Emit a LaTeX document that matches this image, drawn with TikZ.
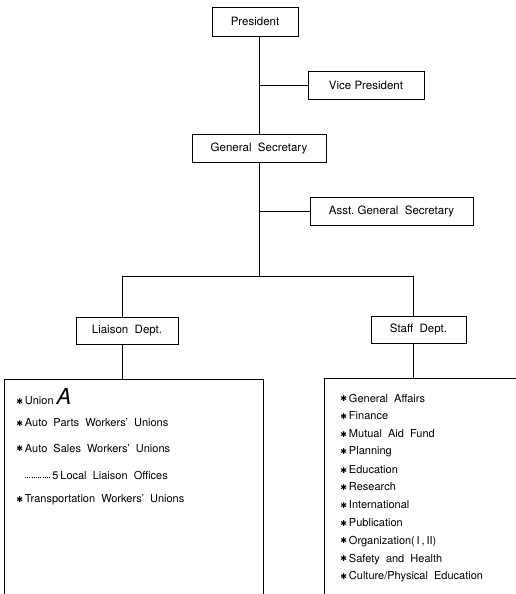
\documentclass[tikz,border=0pt]{standalone}
\usepackage{fontspec}
\setmainfont{TeX Gyre Heros}
\newfontfamily\symfont{DejaVu Sans}
\newcommand{\bst}{\raisebox{0.6pt}{\symfont\fontsize{8}{8}\selectfont ✱}}
\begin{document}
\begin{tikzpicture}[x=1pt,y=-1pt,line width=0.9pt,
  box/.style={draw,rectangle,inner sep=0pt,minimum height=28pt,font=\fontsize{11.5}{13}\selectfont},
  item/.style={anchor=west,inner sep=0pt,font=\fontsize{11}{13}\selectfont}]
\useasboundingbox (0,0) rectangle (515,594);
% boxes
\node[box,minimum width=86pt,minimum height=29pt] (pres) at (255,21.5) {President};
\node[box,minimum width=116pt] (vp) at (366,85.5) {Vice President};
\node[box,minimum width=134pt] (gs) at (259,148) {General\ \ Secretary};
\node[box,minimum width=163pt] (ags) at (391.5,211.5) {Asst.\ General\ \ Secretary};
\node[box,minimum width=102pt,minimum height=27pt] (lia) at (127,330.5) {Liaison\ \ Dept.};
\node[box,minimum width=95pt,minimum height=27pt] (staff) at (418.5,329.5) {Staff\ \ Dept.};
% junctions
\coordinate (bj) at (259,276);
\coordinate (lb) at (122,276);
\coordinate (rb) at (413,276);
\coordinate (ltop) at (122,379);
\coordinate (rtop) at (413,378);
% connectors
\draw (pres.south -| gs.north) -- (gs.north);
\draw (vp.west) -- (vp.west -| gs.north);
\draw (gs.south) -- (bj);
\draw (ags.west) -- (ags.west -| gs.south);
\draw (lb) -- (rb);
\draw (lb) -- (lb |- lia.north);
\draw (lb |- lia.south) -- (ltop);
\draw (rb) -- (rb |- staff.north);
\draw (rb |- staff.south) -- (rtop);
% big open boxes
\draw (4,596) -- (4,379) -- (263,379) -- (263,596);
\draw (324,596) -- (324,378) -- (517,378);
% left list
\node[item] (l1) at (16,397) {\bst\,Union\ {\fontsize{22}{22}\selectfont\itshape A}};
\node[item] (l2) at (16,423) {\bst\,Auto\ \ Parts\ \ Workers’\ \ Unions};
\node[item] (l3) at (16,448) {\bst\,Auto\ \ Sales\ \ Workers’\ \ Unions};
\coordinate (d1) at (25,477);
\coordinate (d2) at (51,477);
\draw[line width=0.8pt,dash pattern=on 0.8pt off 1.4pt] (d1) -- (d2);
\node[item] (l4) at (52,475) {5\,Local\ \ Liaison\ \ Offices};
\node[item] (l5) at (16,500) {\bst\,Transportation\ \ Workers’\ \ Unions};
% right list
\node[item] (r1) at (340,398) {\bst\,General\ \ Affairs};
\node[item] (r2) at (340,416) {\bst\,Finance};
\node[item] (r3) at (340,434) {\bst\,Mutual\ \ Aid\ \ Fund};
\node[item] (r4) at (340,452) {\bst\,Planning};
\node[item] (r5) at (340,470) {\bst\,Education};
\node[item] (r6) at (340,487) {\bst\,Research};
\node[item] (r7) at (340,505) {\bst\,International};
\node[item] (r8) at (340,523) {\bst\,Publication};
\node[item] (r9) at (340,541.5) {\bst\,Organization(\,I\,,\,II)};
\node[item] (r10) at (340,559.5) {\bst\,Safety\ \ and\ \ Health};
\node[item] (r11) at (340,577) {\bst\,Culture/Physical\ \ Education};
\end{tikzpicture}
\end{document}
